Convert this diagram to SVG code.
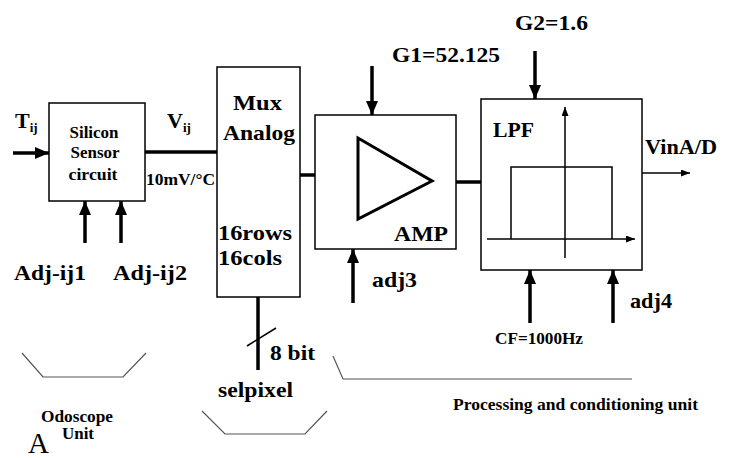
<svg xmlns="http://www.w3.org/2000/svg" width="739" height="458" viewBox="0 0 739 458">
<defs>
<style>
text{font-family:"Liberation Serif","Times New Roman",serif;font-weight:bold;fill:#000}
.big{font-size:22px}
.sm{font-size:16px}
.box{fill:#fff;stroke:#000;stroke-width:1.5}
.thick{stroke:#000;stroke-width:3.5;fill:none}
.thin{stroke:#000;stroke-width:1.5;fill:none}
.brk{stroke:#555;stroke-width:1.2;fill:none}
</style>
<marker id="ah" markerUnits="userSpaceOnUse" markerWidth="16" markerHeight="14" refX="14" refY="6" orient="auto">
<path d="M0,0 L14,6 L0,12 Z" fill="#000"/>
</marker>
<marker id="as" markerUnits="userSpaceOnUse" markerWidth="10" markerHeight="8" refX="9" refY="3.5" orient="auto">
<path d="M0,0 L9,3.5 L0,7 Z" fill="#000"/>
</marker>
</defs>
<rect width="739" height="458" fill="#fff"/>

<g id="connectors">
<line class="thick" x1="13" y1="153" x2="49" y2="153" marker-end="url(#ah)"/>
<line class="thick" x1="145" y1="152" x2="217" y2="152"/>
<line class="thick" x1="85" y1="243" x2="85" y2="201" marker-end="url(#ah)"/>
<line class="thick" x1="121" y1="243" x2="121" y2="201" marker-end="url(#ah)"/>
<line class="thick" x1="300" y1="175" x2="358" y2="175"/>
<line class="thick" x1="372" y1="66" x2="372" y2="115" marker-end="url(#ah)"/>
<line class="thick" x1="353" y1="303" x2="353" y2="249" marker-end="url(#ah)"/>
<line class="thick" x1="432" y1="182" x2="481" y2="182"/>
<line class="thick" x1="535" y1="51" x2="535" y2="99" marker-end="url(#ah)"/>
<line class="thick" x1="530" y1="323" x2="530" y2="270" marker-end="url(#ah)"/>
<line class="thick" x1="613" y1="323" x2="613" y2="270" marker-end="url(#ah)"/>
<line class="thin" x1="642" y1="173" x2="690" y2="173" marker-end="url(#as)"/>
<line class="thick" x1="258" y1="297" x2="258" y2="370"/>
<line class="thin" x1="247" y1="346" x2="276" y2="328" stroke-width="1.2"/>
</g>

<g id="sensor">
<rect class="box" x="49" y="103" width="96" height="98"/>
<text class="sm" x="94" y="138" text-anchor="middle" textLength="49" lengthAdjust="spacingAndGlyphs">Silicon</text>
<text class="sm" x="95" y="158" text-anchor="middle" textLength="49" lengthAdjust="spacingAndGlyphs">Sensor</text>
<text class="sm" x="93" y="180" text-anchor="middle" textLength="49" lengthAdjust="spacingAndGlyphs">circuit</text>
</g>

<g id="mux">
<rect class="box" x="217" y="67" width="83" height="230"/>
<text class="big" x="233" y="110" textLength="49" lengthAdjust="spacingAndGlyphs">Mux</text>
<text class="big" x="223" y="140" textLength="72" lengthAdjust="spacingAndGlyphs">Analog</text>
<text class="big" x="218" y="240" textLength="74" lengthAdjust="spacingAndGlyphs">16rows</text>
<text class="big" x="218" y="265" textLength="64" lengthAdjust="spacingAndGlyphs">16cols</text>
</g>

<g id="amp">
<rect class="box" x="315" y="115" width="141" height="134"/>
<path d="M358,138 L358,219 L432,181 Z" fill="#fff" stroke="#000" stroke-width="3"/>
<text class="big" x="394" y="241" textLength="54" lengthAdjust="spacingAndGlyphs">AMP</text>
</g>

<g id="lpf">
<rect class="box" x="481" y="99" width="161" height="171"/>
<text class="big" x="493" y="137" textLength="41" lengthAdjust="spacingAndGlyphs">LPF</text>
<line class="thin" x1="565" y1="258" x2="565" y2="107" marker-end="url(#as)"/>
<line class="thin" x1="487" y1="239" x2="635" y2="239" marker-end="url(#as)"/>
<polyline class="thin" points="511,239 511,167 612,167 612,239"/>
</g>

<g id="labels">
<text class="big" x="15" y="128">T<tspan font-size="13" dy="4">ij</tspan></text>
<text class="big" x="167" y="128">V<tspan font-size="13" dy="4">ij</tspan></text>
<text class="sm" x="146" y="185" font-size="14" textLength="69" lengthAdjust="spacingAndGlyphs">10mV/°C</text>
<text class="big" x="14" y="280" textLength="72" lengthAdjust="spacingAndGlyphs">Adj-ij1</text>
<text class="big" x="113" y="280" textLength="74" lengthAdjust="spacingAndGlyphs">Adj-ij2</text>
<text class="big" x="392" y="62" textLength="108" lengthAdjust="spacingAndGlyphs">G1=52.125</text>
<text class="big" x="515" y="30" textLength="73" lengthAdjust="spacingAndGlyphs">G2=1.6</text>
<text class="big" x="372" y="287" textLength="45" lengthAdjust="spacingAndGlyphs">adj3</text>
<text class="big" x="630" y="308" textLength="42" lengthAdjust="spacingAndGlyphs">adj4</text>
<text class="sm" x="495" y="344" font-size="15" textLength="88" lengthAdjust="spacingAndGlyphs">CF=1000Hz</text>
<text class="big" x="645" y="154" textLength="72" lengthAdjust="spacingAndGlyphs">VinA/D</text>
<text class="big" x="270" y="360" textLength="45" lengthAdjust="spacingAndGlyphs">8 bit</text>
<text class="big" x="218" y="397" textLength="75" lengthAdjust="spacingAndGlyphs">selpixel</text>
<text class="sm" x="41" y="422" textLength="72" lengthAdjust="spacingAndGlyphs">Odoscope</text>
<text class="sm" x="62" y="439" textLength="32" lengthAdjust="spacingAndGlyphs">Unit</text>
<text x="28" y="453" style="font-weight:normal;font-size:29px">A</text>
<text x="453" y="410" style="font-size:17.5px" textLength="245" lengthAdjust="spacingAndGlyphs">Processing and conditioning unit</text>
</g>

<g id="brackets">
<polyline class="brk" points="22,353 43,377 123,377 146,353"/>
<polyline class="brk" points="202,411 225,434 305,434 327,411"/>
<polyline class="brk" points="333,356 343,379 632,379" stroke="#000"/>
</g>
</svg>
